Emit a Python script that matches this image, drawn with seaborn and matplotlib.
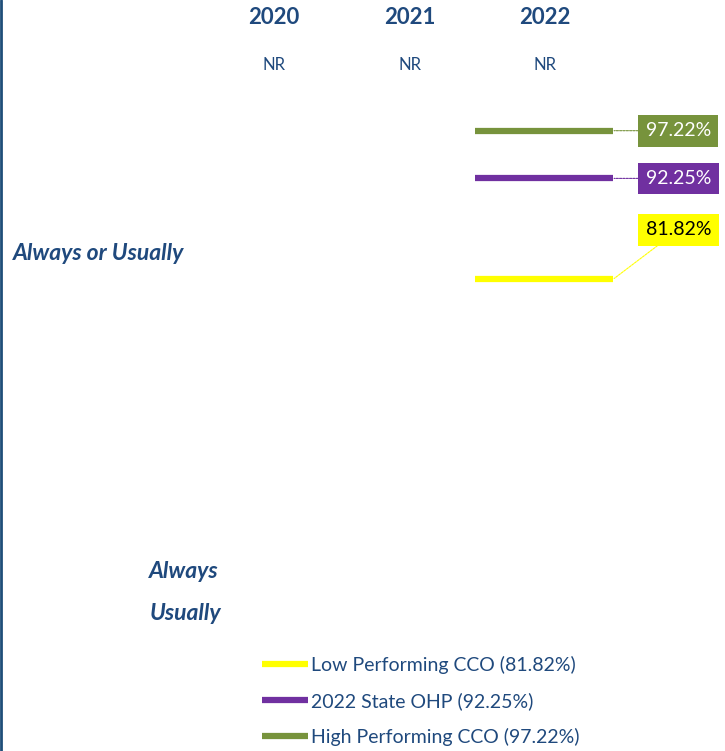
import numpy as np
import pandas as pd
import matplotlib.pyplot as plt
from matplotlib.lines import Line2D
import matplotlib.transforms as mtransforms
import seaborn as sns

sns.set_theme(style='white')
plt.rcParams['font.family'] = ['Lato', 'DejaVu Sans']

# Data
years = ['2020', '2021', '2022']
year_results = ['NR', 'NR', 'NR']
benchmarks = ['Low Performing CCO', '2022 State OHP', 'High Performing CCO']
bench_values = [81.82, 92.25, 97.22]
bench_colors = ['#FFFF00', '#7030A0', '#77933C']
label_text_colors = ['black', 'white', 'white']
measure = 'Always or Usually'
stack_labels = ['Always', 'Usually']

NAVY = '#1F497D'

fig = plt.figure(figsize=(7.25, 7.51), dpi=100)
ax = fig.add_axes([206.25 / 725, 1 - 488 / 751, 406.5 / 725, 384 / 751])

# benchmark lines span the latest year's slot
pos = len(years) - 1
rows = []
for name, v in zip(benchmarks, bench_values):
    rows.append({'benchmark': name, 'x': pos - 0.52, 'value': v})
    rows.append({'benchmark': name, 'x': pos + 0.51, 'value': v})
df = pd.DataFrame(rows)

sns.lineplot(data=df, x='x', y='value', hue='benchmark', hue_order=benchmarks,
             palette=bench_colors, linewidth=4.5, legend=False, ax=ax,
             solid_capstyle='butt')

ax.set_xlim(-0.5, len(years) - 0.5)
ax.set_ylim(60, 100)
ax.axis('off')

# year headers and results
trans = mtransforms.blended_transform_factory(ax.transData, fig.transFigure)
for i, (yr, res) in enumerate(zip(years, year_results)):
    ax.text(i, 1 - 17 / 751, yr, transform=trans, ha='center', va='center',
            fontsize=16, fontweight='bold', color=NAVY)
    ax.text(i, 1 - 65 / 751, res, transform=trans, ha='center', va='center',
            fontsize=12, color=NAVY)

# value boxes to the right of the lines
box_y = {97.22: 97.22, 92.25: 92.25, 81.82: 86.9}
for v, c, tc in zip(bench_values, bench_colors, label_text_colors):
    ty = box_y[v]
    ax.annotate(f'{v:.2f}%', xy=(pos + 0.51, v), xytext=(pos + 0.985, ty),
                textcoords='data', ha='center', va='center', fontsize=14, color=tc,
                bbox=dict(boxstyle='square,pad=0.38', fc=c, ec='none'),
                arrowprops=dict(arrowstyle='-', color=c, lw=0.8, linestyle=(0, (2, 1)),
                                shrinkA=0, shrinkB=0),
                annotation_clip=False)

# row labels
italic = dict(ha='left', va='center', fontsize=16.5, fontweight='bold',
              fontstyle='italic', color=NAVY)
fig.text(13 / 725, 1 - 254 / 751, measure, **italic)
fig.text(149 / 725, 1 - 571 / 751, stack_labels[0], **italic)
fig.text(150 / 725, 1 - 614 / 751, stack_labels[1], **italic)

# legend
handles = [Line2D([0], [0], color=c, lw=4.5, solid_capstyle='butt') for c in bench_colors]
labels = [f'{n} ({v:.2f}%)' for n, v in zip(benchmarks, bench_values)]
fig.legend(handles, labels, loc='upper left', bbox_to_anchor=(262 / 725, 1 - 656 / 751),
           frameon=False, fontsize=14, labelcolor=NAVY, handlelength=2.35,
           handletextpad=0.15, labelspacing=0.92, borderaxespad=0, borderpad=0)

# left border
fig.add_artist(Line2D([0.001, 0.001], [0, 1], transform=fig.transFigure,
                      color='#1F4E79', lw=2))

fig.savefig('out.png', dpi=100)
